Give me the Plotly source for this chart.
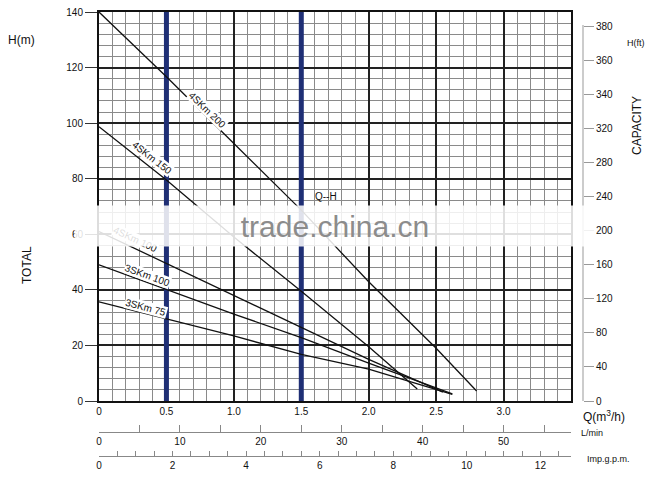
import plotly.graph_objects as go

# pump curves, Q in m3/h, H in m
q_4skm200 = [0, 0.5, 1.0, 1.5, 2.0, 2.5, 2.8]
h_4skm200 = [140, 116.7, 92.7, 68.7, 42.9, 19.0, 3.6]

q_4skm150 = [0, 0.5, 1.0, 1.5, 2.0, 2.36]
h_4skm150 = [98.7, 79.5, 59.0, 39.5, 19.5, 4.3]

q_4skm100 = [0, 0.5, 1.0, 1.5, 2.0, 2.55]
h_4skm100 = [61.0, 49.5, 38.0, 26.7, 15.0, 3.2]

q_3skm100 = [0, 0.5, 1.0, 1.5, 2.0, 2.62]
h_3skm100 = [49.0, 40.2, 31.3, 22.8, 13.6, 2.6]

q_3skm75 = [0, 0.5, 1.0, 1.5, 2.0, 2.62]
h_3skm75 = [35.7, 29.5, 23.4, 16.8, 11.5, 2.4]

marker_q = [0.5, 1.5]

q_ticks = [0, 0.5, 1.0, 1.5, 2.0, 2.5, 3.0]
q_labels = ["0", "0.5", "1.0", "1.5", "2.0", "2.5", "3.0"]
h_ticks = [0, 20, 40, 60, 80, 100, 120, 140]
ft_labels = ["0", "40", "80", "120", "160", "200", "240", "280", "320", "340", "360", "380"]
lmin_ticks = [0, 5, 10, 15, 20, 25, 30, 35, 40, 45, 50, 55]
gpm_ticks = [x / 2 for x in range(26)]

FONT = "Liberation Sans, Arial, sans-serif"
OFF = 8  # page body margin
W, H = 656 - OFF, 481 - OFF
ML, MR, MT, MB = 99 - OFF, 40, 12 - OFF, 20
PW, PH = W - ML - MR, H - MT - MB


def px(x):
    # screen pixel -> paper x
    return (x - OFF - ML) / PW


def py(y):
    # screen pixel -> paper y
    return (H - MB - (y - OFF)) / PH


series = [
    ("4SKm 200", q_4skm200, h_4skm200),
    ("4SKm 150", q_4skm150, h_4skm150),
    ("4SKm 100", q_4skm100, h_4skm100),
    ("3SKm 100", q_3skm100, h_3skm100),
    ("3SKm 75", q_3skm75, h_3skm75),
]

fig = go.Figure()
for name, q, h in series:
    fig.add_trace(go.Scatter(x=q, y=h, mode="lines", name=name,
                             line=dict(color="#111", width=1.3), hoverinfo="skip"))

# dummy traces so the extra axes are drawn
for xa, ya in [("x2", "y"), ("x3", "y"), ("x", "y2")]:
    fig.add_trace(go.Scatter(x=[0], y=[0], xaxis=xa, yaxis=ya, mode="markers",
                             marker=dict(opacity=0), hoverinfo="skip"))

for q in marker_q:
    fig.add_shape(type="line", x0=q, x1=q, y0=0, y1=140, xref="x", yref="y",
                  layer="between", line=dict(color="#1f2f75", width=5))

fig.add_shape(type="line", xref="paper", yref="paper", x0=px(583), x1=px(583),
              y0=py(401), y1=py(25), line=dict(color="#999", width=1))

labels = [
    ("4SKm 200", 0.808, 104.7, 44),
    ("4SKm 150", 0.393, 87.8, 38),
    ("4SKm 100", 0.274, 58.3, 25),
    ("3SKm 100", 0.363, 45.3, 20),
    ("3SKm 75", 0.349, 33.8, 15),
]
for text, x, y, ang in labels:
    fig.add_annotation(x=x, y=y, text=text, textangle=ang, showarrow=False,
                       bgcolor="white", borderpad=0,
                       font=dict(size=10, color="#111", family=FONT))

fig.add_annotation(x=1.68, y=73.5, text="Q--H", showarrow=False,
                   font=dict(size=10, color="#111", family=FONT))

side_texts = [
    ("H(m)", 21, 40, 0, 12),
    ("TOTAL", 27, 265, -90, 12),
    ("H(ft)", 636, 43, 0, 9),
    ("CAPACITY", 637, 126, -90, 12),
    ("Q(m<sup>3</sup>/h)", 604, 416, 0, 12),
    ("L/min", 592, 433, 0, 9),
    ("Imp.g.p.m.", 608, 459, 0, 9),
]
for text, x, y, ang, size in side_texts:
    fig.add_annotation(x=px(x), y=py(y), xref="paper", yref="paper", text=text,
                       xanchor="center", yanchor="middle",
                       textangle=ang, showarrow=False,
                       font=dict(size=size, color="#111", family=FONT))

# watermark band
fig.add_annotation(x=px(335), y=py(226), xref="paper", yref="paper",
                   xanchor="center", yanchor="middle",
                   text="trade.china.cn", showarrow=False, width=520, height=40,
                   bgcolor="rgba(255,255,255,0.86)", borderpad=0,
                   font=dict(size=30, color="#8c8c8c", family=FONT))

dom_x = [0, 472 / PW]
dom_y = [py(401), 1]

fig.update_layout(
    width=W, height=H,
    margin=dict(l=ML, r=MR, t=MT, b=MB, autoexpand=False),
    paper_bgcolor="white", plot_bgcolor="white",
    showlegend=False,
    font=dict(family=FONT, size=10, color="#111"),
    xaxis=dict(domain=dom_x, range=[0, 3.5], tickvals=q_ticks, ticktext=q_labels,
               showgrid=True, gridcolor="#222", gridwidth=1.8,
               minor=dict(tickmode="linear", tick0=0, dtick=0.1, showgrid=True,
                          gridcolor="#8a8a8a", gridwidth=0.9),
               showline=True, mirror=True, linecolor="#111", linewidth=2,
               ticks="", zeroline=False, tickfont=dict(size=10), automargin=False,
               ticklabeloverflow="allow"),
    yaxis=dict(domain=dom_y, range=[0, 140], tickvals=h_ticks,
               showgrid=True, gridcolor="#222", gridwidth=1.8,
               minor=dict(tickmode="linear", tick0=0, dtick=4, showgrid=True,
                          gridcolor="#8a8a8a", gridwidth=0.9),
               showline=True, mirror=True, linecolor="#111", linewidth=2,
               ticks="outside", ticklen=12, tickcolor="#333", zeroline=False,
               tickfont=dict(size=10), automargin=False,
               ticklabeloverflow="allow"),
    xaxis2=dict(overlaying="x", anchor="free", position=py(431.7), side="bottom",
                range=[0, 3.5 * 1000 / 60], tickvals=lmin_ticks,
                ticktext=[str(v) if v % 10 == 0 else "" for v in lmin_ticks],
                ticks="inside", ticklen=7, tickcolor="#888",
                showline=True, linecolor="#888", linewidth=1,
                showgrid=False, zeroline=False, tickfont=dict(size=10),
                automargin=False),
    xaxis3=dict(overlaying="x", anchor="free", position=py(455.7), side="bottom",
                range=[0, 3.5 * 1000 / 4.54609 / 60], tickvals=gpm_ticks,
                ticktext=[str(int(v)) if v % 2 == 0 else "" for v in gpm_ticks],
                ticks="inside", ticklen=5, tickcolor="#888",
                showline=True, linecolor="#888", linewidth=1,
                showgrid=False, zeroline=False, tickfont=dict(size=10),
                automargin=False),
    yaxis2=dict(overlaying="y", anchor="free", position=px(583), side="right",
                range=[0, 389 / 34.03], tickvals=list(range(len(ft_labels))),
                ticktext=ft_labels, ticks="outside", ticklen=10, tickcolor="#999",
                showline=False, showgrid=False, zeroline=False,
                tickfont=dict(size=10), automargin=False,
                ticklabeloverflow="allow"),
)

fig.write_html("out.html")
